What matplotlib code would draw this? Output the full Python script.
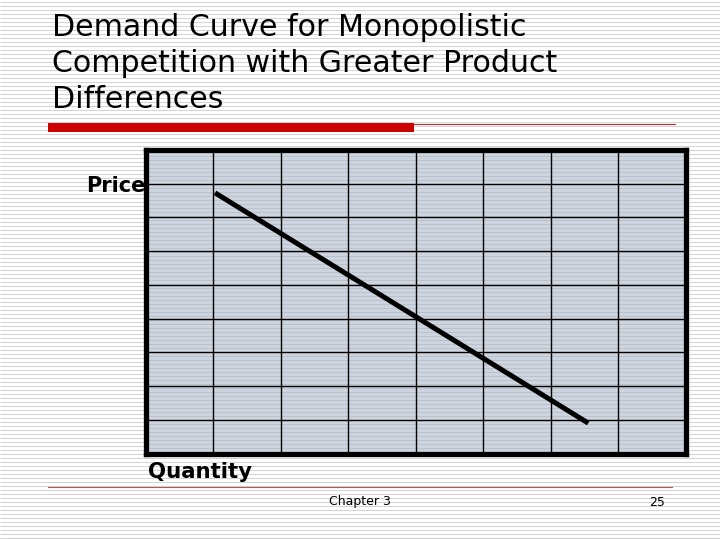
import matplotlib
matplotlib.use("Agg")
import matplotlib.pyplot as plt
import numpy as np

# chart content
title_lines = ["Demand Curve for Monopolistic",
               "Competition with Greater Product",
               "Differences"]
x_label = "Quantity"
y_label = "Price"
footer_text = "Chapter 3"
page_no = "25"

# demand curve end points (grid units: 8 columns x 9 rows)
demand_q = [1.03, 6.56]
demand_p = [7.73, 0.90]
n_cols = 8
n_rows = 9

W, H = 720, 540
fig = plt.figure(figsize=(7.2, 5.4), dpi=100)

# slide background in pixel coordinates
bg = fig.add_axes([0, 0, 1, 1])
bg.set_xlim(0, W)
bg.set_ylim(H, 0)
bg.axis("off")
bg.hlines(np.arange(1.5, H, 4), 0, W, color="#d4d4d4", lw=0.75, zorder=0)

# title
for i, line in enumerate(title_lines):
    bg.text(52, 28 + i * 36, line, fontsize=21.6, family="DejaVu Sans",
            va="center", ha="left", color="black")

# red rule under the title
bg.add_patch(plt.Rectangle((48, 123), 366, 9, color="#cc0000", lw=0, zorder=2))
bg.plot([414, 675], [123.5, 123.5], color="#b03030", lw=0.8, zorder=2)
# footer rule
bg.plot([48, 672], [486.5, 486.5], color="#b85858", lw=0.8, zorder=2)

# plot area fill with stripes
left, right, top, bottom = 145.5, 685.5, 150, 453.5
bg.add_patch(plt.Rectangle((left, top), right - left, bottom - top,
                           color="#cfd5de", lw=0, zorder=1))
bg.hlines(np.arange(top + 1.5, bottom, 4), left, right, color="#bac2ce",
          lw=0.75, zorder=1.5)

ax = fig.add_axes([left / W, 1 - bottom / H, (right - left) / W, (bottom - top) / H])
ax.patch.set_alpha(0)
ax.set_xlim(0, n_cols)
ax.set_ylim(0, n_rows)
ax.set_xticks(np.arange(1, n_cols))
ax.set_yticks(np.arange(1, n_rows))
ax.tick_params(length=0, labelbottom=False, labelleft=False)
ax.grid(True, color="black", lw=1.0)
for s in ax.spines.values():
    s.set_linewidth(3.8)
    s.set_color("black")
ax.plot(demand_q, demand_p, color="black", lw=3.6, solid_capstyle="butt", zorder=3)

# axis labels
bg.text(146, 186, y_label, fontsize=15, fontweight="bold", family="DejaVu Sans",
        ha="right", va="center", zorder=3)
bg.text(148, 472, x_label, fontsize=15.3, fontweight="bold", family="DejaVu Sans",
        ha="left", va="center", zorder=3)

# footer
bg.text(360, 502, footer_text, fontsize=9, family="DejaVu Sans", ha="center", va="center")
bg.text(665, 502, page_no, fontsize=9, family="DejaVu Sans", ha="right", va="center")

fig.savefig("out.png", dpi=100)
